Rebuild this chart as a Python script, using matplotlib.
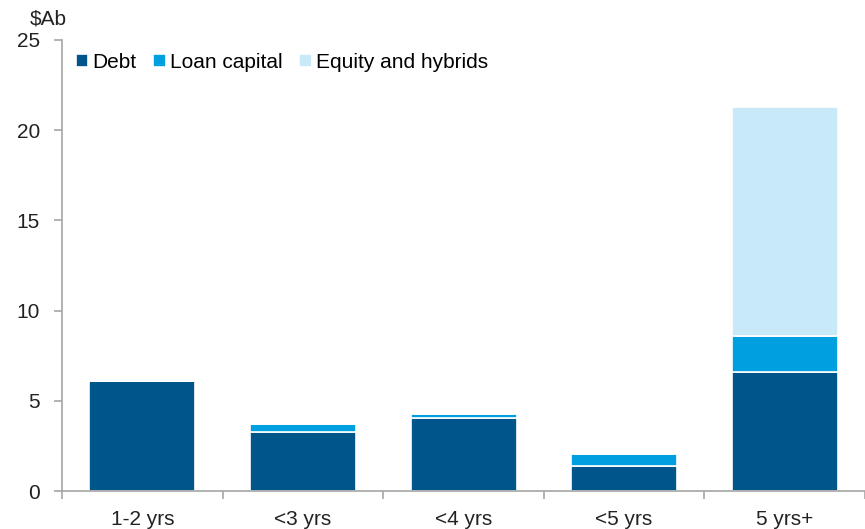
import numpy as np
import matplotlib.pyplot as plt

plt.rcParams['font.family'] = ['Liberation Sans', 'DejaVu Sans']

categories = ["1-2 yrs", "<3 yrs", "<4 yrs", "<5 yrs", "5 yrs+"]
debt = [6.1, 3.25, 4.05, 1.4, 6.6]
loan_capital = [0.0, 0.45, 0.2, 0.65, 2.0]
equity = [0.0, 0.0, 0.0, 0.0, 12.7]

c_debt = "#00558B"
c_loan = "#00A0E0"
c_eq = "#C8E9F7"
grey = "#A6A6A6"

fig = plt.figure(figsize=(8.65, 5.29), dpi=100)
ax = fig.add_axes([0.0717, 0.0718, 0.9283, 0.8526])

x = np.arange(len(categories))
w = 0.66
debt = np.array(debt)
loan_capital = np.array(loan_capital)
equity = np.array(equity)

ax.bar(x, debt, w, color=c_debt, edgecolor="white", linewidth=1.2, label="Debt")
ax.bar(x, loan_capital, w, bottom=debt, color=c_loan, edgecolor="white", linewidth=1.2, label="Loan capital")
ax.bar(x, equity, w, bottom=debt + loan_capital, color=c_eq, edgecolor="white", linewidth=1.2,
       label="Equity and hybrids")

ax.set_xlim(-0.5, len(categories) - 0.5)
ax.set_ylim(0, 25)
ax.set_yticks([0, 5, 10, 15, 20, 25])
ax.set_xticks(x)
ax.set_xticklabels(categories)
ax.set_xticks(np.arange(len(categories) + 1) - 0.5, minor=True)
ax.tick_params(axis="x", which="major", length=0, pad=14, labelsize=15, colors="#222222")
ax.tick_params(axis="x", which="minor", length=6, color=grey, width=1.2)
ax.tick_params(axis="y", length=6, color=grey, width=1.2, labelsize=15, labelcolor="#222222", pad=10)

for s in ["top", "right"]:
    ax.spines[s].set_visible(False)
for s in ["left", "bottom"]:
    ax.spines[s].set_color(grey)
    ax.spines[s].set_linewidth(1.2)

fig.text(0.034, 0.965, "$Ab", fontsize=15, color="#222222", va="center")

ax.legend(loc="upper left", bbox_to_anchor=(-0.006, 1.013), ncol=3, frameon=False, fontsize=15,
          handlelength=0.6, handleheight=0.6, handletextpad=0.2, columnspacing=0.8)

plt.savefig("out.png", dpi=100)
